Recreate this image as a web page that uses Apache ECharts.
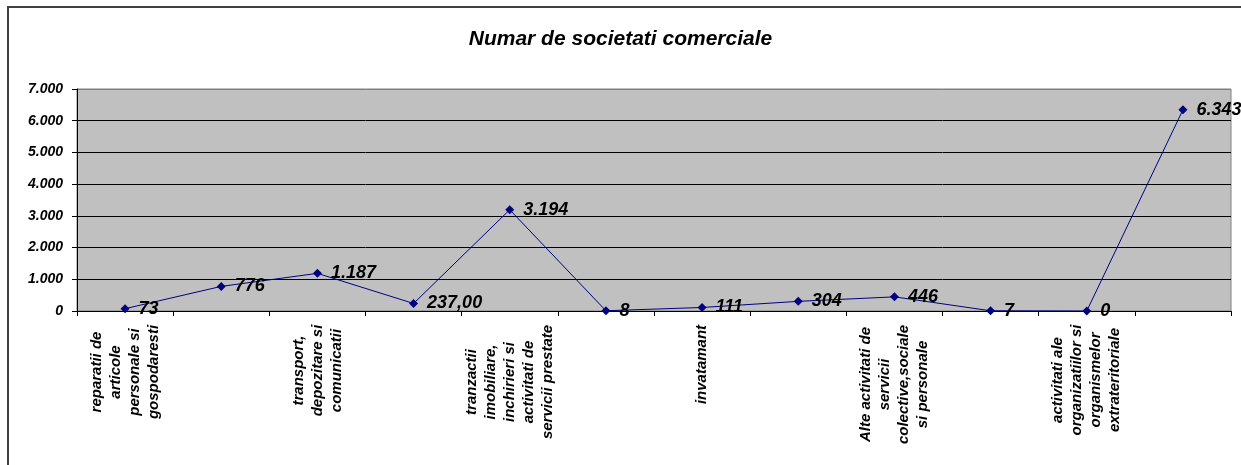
<!DOCTYPE html>
<html>
<head>
<meta charset="utf-8">
<title>Numar de societati comerciale</title>
<script src="https://cdn.jsdelivr.net/npm/echarts@6/dist/echarts.min.js"></script>
<style>
 html, body { margin: 0; padding: 0; background: #fff; }
 #main { width: 1241px; height: 465px; }
</style>
</head>
<body>
<div id="main"></div>
<script>
/** date **/
// categoriile fara eticheta in grafic sunt lasate goale
var categories = [
 'reparatii de\narticole\npersonale si\ngospodaresti',
 '',
 'transport,\ndepozitare si\ncomunicatii',
 '',
 'tranzactii\nimobiliare,\ninchirieri si\nactivitati de\nservicii prestate',
 '',
 'invatamant',
 '',
 'Alte activitati de\nservicii\ncolective,sociale\nsi personale',
 '',
 'activitati ale\norganizatiilor si\norganismelor\nextrateritoriale',
 ''
];
var values = [73, 776, 1187, 237, 3194, 8, 111, 304, 446, 7, 0, 6343];
var pointLabels = ['73', '776', '1.187', '237,00', '3.194', '8', '111', '304', '446', '7', '0', '6.343'];
var yTicks = [0, 1000, 2000, 3000, 4000, 5000, 6000, 7000];

var FONT = '"Liberation Sans", Arial, sans-serif';

/** format 7000 -> 7.000 **/
function fmt(v) {
 return String(v).replace(/\B(?=(\d{3})+(?!\d))/g, '.');
}

/** latimea celui mai lung rand, pentru centrarea randurilor **/
var ctx = document.createElement('canvas').getContext('2d');
ctx.font = 'italic bold 15px ' + FONT;
var rich = {};
categories.forEach(function(name, i) {
 var w = 0;
 name.split('\n').forEach(function(line) {
  w = Math.max(w, ctx.measureText(line).width);
 });
 rich['w' + i] = {
  width: Math.ceil(w) + 1,
  align: 'center',
  fontSize: 15,
  fontStyle: 'italic',
  fontWeight: 'bold',
  fontFamily: FONT,
  lineHeight: 19,
  color: '#000'
 };
});

var chart = echarts.init(document.getElementById('main'));

var option = {
 animation: false,
 backgroundColor: '#fff',
 title: {
  text: 'Numar de societati comerciale',
  left: 'center',
  top: 24,
  textStyle: {
   fontSize: 21,
   fontStyle: 'italic',
   fontWeight: 'bold',
   fontFamily: FONT,
   color: '#000'
  }
 },
 graphic: [
  {
   type: 'rect',
   silent: true,
   shape: { x: 8, y: 7, width: 1400, height: 600 },
   style: { fill: 'none', stroke: '#404040', lineWidth: 2 }
  }
 ],
 grid: {
  left: 77,
  right: 10,
  top: 89,
  bottom: 154,
  show: true,
  backgroundColor: '#c0c0c0',
  borderColor: '#808080',
  borderWidth: 1
 },
 xAxis: {
  type: 'category',
  data: categories,
  boundaryGap: true,
  axisLine: { lineStyle: { color: '#000', width: 1 } },
  axisTick: { show: true, length: 5, lineStyle: { color: '#000' } },
  axisLabel: {
   interval: 0,
   rotate: 90,
   margin: 13,
   formatter: function(value, index) {
    if (!value) return '';
    return value.split('\n').map(function(line) {
     return '{w' + index + '|' + line + '}';
    }).join('\n');
   },
   rich: rich
  }
 },
 yAxis: {
  type: 'value',
  min: yTicks[0],
  max: yTicks[yTicks.length - 1],
  interval: 1000,
  axisLine: { show: true, lineStyle: { color: '#000', width: 1 } },
  axisTick: { show: true, length: 5, lineStyle: { color: '#000' } },
  axisLabel: {
   margin: 14,
   fontSize: 14,
   fontStyle: 'italic',
   fontWeight: 'bold',
   fontFamily: FONT,
   color: '#000',
   formatter: fmt
  },
  splitLine: {
   show: true,
   lineStyle: {
    color: ['#000', '#000', '#000', '#000', '#000', '#000', '#000', '#808080'],
    width: 1
   }
  }
 },
 series: [
  {
   name: 'Numar de societati comerciale',
   type: 'line',
   data: values,
   symbol: 'diamond',
   symbolSize: 9,
   lineStyle: { color: '#000080', width: 1 },
   itemStyle: { color: '#000080' },
   label: {
    show: true,
    position: 'right',
    distance: 9,
    fontSize: 18,
    fontStyle: 'italic',
    fontWeight: 'bold',
    fontFamily: FONT,
    color: '#000',
    formatter: function(p) {
     return pointLabels[p.dataIndex];
    }
   }
  }
 ]
};

chart.setOption(option);
</script>
</body>
</html>
